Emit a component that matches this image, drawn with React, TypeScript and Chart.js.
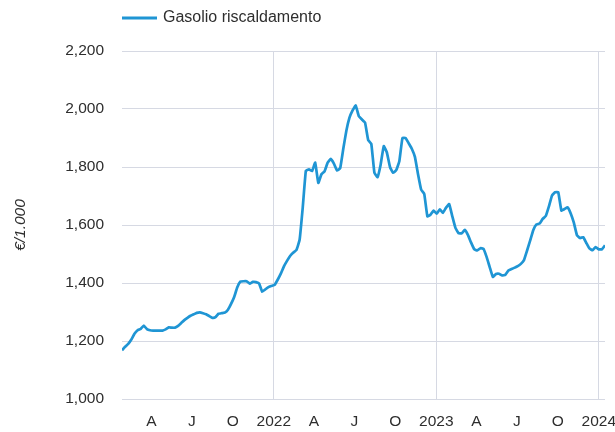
import React, { useEffect, useRef } from "react";
import { Chart, registerables } from "chart.js";

Chart.register(...registerables);

// ---- data ----
const SERIES_LABEL = "Gasolio riscaldamento";
const Y_TITLE = "€/1.000";
const START_DATE = "2021-01-25"; // first weekly observation
const WEEKLY_VALUES = [
  1168, 1180, 1190, 1205, 1225, 1237, 1242, 1253, 1241, 1237,
  1236, 1236, 1236, 1236, 1240, 1247, 1246, 1246, 1252, 1262,
  1272, 1280, 1287, 1292, 1297, 1299, 1296, 1292, 1286, 1280,
  1282, 1294, 1296, 1298, 1308, 1328, 1352, 1385, 1405, 1406,
  1406, 1398, 1404, 1403, 1398, 1370, 1378, 1386, 1390, 1394,
  1412, 1433, 1458, 1477, 1494, 1505, 1514, 1549, 1660, 1787,
  1792, 1786, 1815, 1745, 1775, 1785, 1815, 1828, 1812, 1788,
  1795, 1862, 1925, 1970, 1995, 2012, 1975, 1964, 1953, 1893,
  1880, 1780, 1765, 1808, 1872, 1850, 1800, 1780, 1789, 1820,
  1900, 1900, 1882, 1863, 1835, 1775, 1722, 1707, 1630, 1635,
  1650, 1639, 1654, 1642, 1660, 1672, 1630, 1590, 1572, 1571,
  1583, 1566, 1540, 1517, 1512, 1520, 1518, 1490, 1455, 1421,
  1431, 1432, 1426, 1428, 1443, 1448, 1453, 1458, 1466, 1479,
  1512, 1547, 1583, 1602, 1605, 1621, 1631, 1664, 1702, 1713,
  1713, 1650, 1655, 1661, 1640, 1608, 1565, 1555, 1558, 1538,
  1519, 1513, 1524, 1516, 1516, 1530,
];
const X_TICK_DATES = [
  "2021-04-01", "2021-07-01", "2021-10-01", "2022-01-01",
  "2022-04-01", "2022-07-01", "2022-10-01", "2023-01-01",
  "2023-04-01", "2023-07-01", "2023-10-01", "2024-01-01",
];
const X_TICK_LABELS = ["A", "J", "O", "2022", "A", "J", "O", "2023", "A", "J", "O", "2024"];
const Y_MIN = 1000;
const Y_MAX = 2200;
const Y_STEP = 200;

// ---- styling ----
const LINE_COLOR = "#1f95d4";
const GRID_COLOR = "#d6d9e3";
const TEXT_COLOR = "#2e2e2e";
const FONT_FAMILY = '"Liberation Sans", Arial, Helvetica, sans-serif';

const DAY_MS = 86400000;
const EPOCH = Date.parse("2021-01-01");
const dayOf = (iso: string) => Math.round((Date.parse(iso) - EPOCH) / DAY_MS);

const legendPlugin = {
  id: "manualLegend",
  afterDraw(chart: any) {
    const ctx = chart.ctx;
    const left = chart.chartArea.left;
    const y = 18;
    ctx.save();
    ctx.strokeStyle = LINE_COLOR;
    ctx.lineWidth = 3;
    ctx.beginPath();
    ctx.moveTo(left, y);
    ctx.lineTo(left + 35, y);
    ctx.stroke();
    ctx.fillStyle = TEXT_COLOR;
    ctx.font = `16px ${FONT_FAMILY}`;
    ctx.textBaseline = "middle";
    ctx.textAlign = "left";
    ctx.fillText(SERIES_LABEL, left + 41, y);
    ctx.restore();
  },
};

export default function App() {
  const canvasRef = useRef<HTMLCanvasElement | null>(null);

  useEffect(() => {
    if (!canvasRef.current) return;
    const start = dayOf(START_DATE);
    const points = WEEKLY_VALUES.map((v, i) => ({ x: start + i * 7, y: v }));
    const tickDays = X_TICK_DATES.map(dayOf);

    const chart = new Chart(canvasRef.current, {
      type: "line",
      data: {
        datasets: [
          {
            label: SERIES_LABEL,
            data: points,
            borderColor: LINE_COLOR,
            backgroundColor: LINE_COLOR,
            borderWidth: 2.7,
            pointRadius: 0,
            tension: 0.1,
            fill: false,
          },
        ],
      },
      options: {
        animation: false,
        responsive: false,
        devicePixelRatio: 1,
        layout: { padding: { top: 51, right: 10, bottom: 0, left: 0 } },
        plugins: {
          legend: { display: false },
          tooltip: { enabled: false },
        },
        scales: {
          x: {
            type: "linear",
            min: points[0].x,
            max: points[points.length - 1].x,
            afterBuildTicks: (scale: any) => {
              scale.ticks = tickDays.map((d) => ({ value: d }));
            },
            afterFit: (scale: any) => {
              scale.height = 33;
              scale.paddingLeft = 0;
              scale.paddingRight = 0;
            },
            ticks: {
              autoSkip: false,
              maxRotation: 0,
              padding: 13,
              color: TEXT_COLOR,
              font: { family: FONT_FAMILY, size: 15.5 },
              callback: (_v: any, i: number) => X_TICK_LABELS[i],
            },
            grid: {
              drawTicks: false,
              lineWidth: 1,
              color: (ctx: any) =>
                X_TICK_LABELS[ctx.index] && X_TICK_LABELS[ctx.index].length === 4
                  ? GRID_COLOR
                  : "rgba(0,0,0,0)",
            },
            border: { display: false },
          },
          y: {
            min: Y_MIN,
            max: Y_MAX,
            afterFit: (scale: any) => {
              scale.width = 122;
            },
            ticks: {
              stepSize: Y_STEP,
              padding: 18,
              color: TEXT_COLOR,
              font: { family: FONT_FAMILY, size: 15.5 },
              callback: (v: any) => Number(v).toLocaleString("en-US"),
            },
            title: {
              display: true,
              text: Y_TITLE,
              color: TEXT_COLOR,
              font: { family: FONT_FAMILY, size: 15.5, style: "italic" },
              padding: { top: 11, bottom: 0 },
            },
            grid: { drawTicks: false, color: GRID_COLOR, lineWidth: 1 },
            border: { display: false },
          },
        },
      },
      plugins: [legendPlugin],
    });

    return () => chart.destroy();
  }, []);

  return (
    <div style={{ position: "absolute", left: 0, top: 0, width: 615, height: 432, background: "#fff" }}>
      <canvas ref={canvasRef} width={615} height={432} />
    </div>
  );
}
